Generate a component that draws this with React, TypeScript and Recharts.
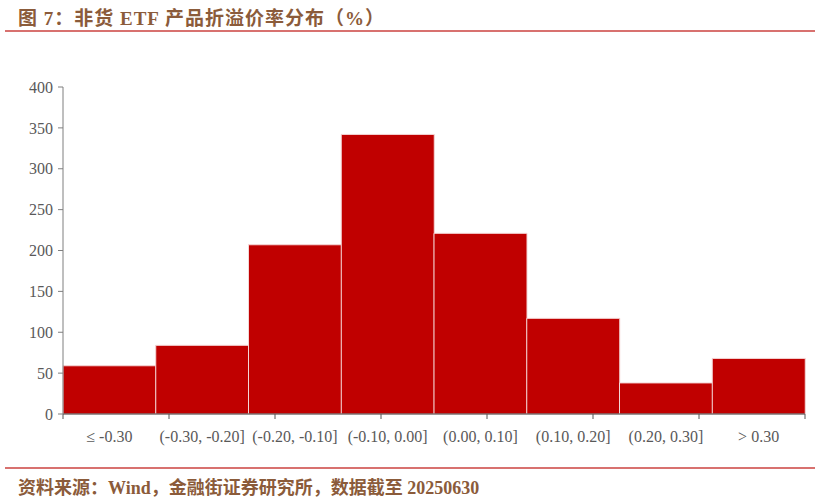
import React from "react";
import { BarChart, Bar, XAxis, YAxis } from "recharts";

const categories = [
  "≤ -0.30",
  "(-0.30, -0.20]",
  "(-0.20, -0.10]",
  "(-0.10, 0.00]",
  "(0.00, 0.10]",
  "(0.10, 0.20]",
  "(0.20, 0.30]",
  "> 0.30",
];
const counts = [59, 84, 207, 342, 221, 117, 38, 68];
const yTicks = [0, 50, 100, 150, 200, 250, 300, 350, 400];
const edgeTicks = [0, 1, 2, 3, 4, 5, 6, 7, 8];

const data = categories.map((c, i) => ({ name: c, value: counts[i] }));

const title = "图 7：非货 ETF 产品折溢价率分布（%）";
const source = "资料来源：Wind，金融街证券研究所，数据截至 20250630";

const serif = '"Liberation Serif", "Times New Roman", "Noto Sans CJK SC", serif';
const brown = "#8B5B3A";
const lineRed = "#D8716F";
const axisGray = "#7F7F7F";
const labelGray = "#595959";

export default function App() {
  return (
    <div
      style={{
        position: "absolute",
        left: 0,
        top: 0,
        width: 820,
        height: 500,
        background: "#fff",
        fontFamily: serif,
      }}
    >
      <div
        style={{
          position: "absolute",
          left: 18,
          top: 3,
          fontSize: 19,
          fontWeight: "bold",
          color: brown,
          letterSpacing: 1,
          whiteSpace: "nowrap",
        }}
      >
        {title}
      </div>
      <div
        style={{
          position: "absolute",
          left: 5,
          top: 30,
          width: 810,
          height: 2,
          background: lineRed,
        }}
      />
      <div style={{ position: "absolute", left: 0, top: 0 }}>
        <BarChart
          width={820}
          height={460}
          data={data}
          margin={{ top: 87, right: 15, bottom: 16, left: 0 }}
          barCategoryGap={0}
          barGap={0}
        >
          <XAxis
            xAxisId="a"
            type="number"
            domain={[0, 8]}
            ticks={edgeTicks}
            tickFormatter={() => ""}
            tick={{ fontSize: 1 }}
            tickSize={5}
            axisLine={{ stroke: "#404040" }}
            tickLine={{ stroke: "#555555" }}
            height={1}
            interval={0}
            allowDataOverflow
          />
          <XAxis
            xAxisId="b"
            dataKey="name"
            axisLine={false}
            tickLine={false}
            interval={0}
            tickMargin={10}
            height={29}
            tick={{ fill: labelGray, fontSize: 16, fontFamily: serif }}
          />
          <YAxis
            domain={[0, 400]}
            ticks={yTicks}
            width={63}
            tickSize={5}
            tickMargin={5}
            interval={0}
            axisLine={{ stroke: axisGray }}
            tickLine={{ stroke: axisGray }}
            tick={{ fill: labelGray, fontSize: 16, fontFamily: serif }}
          />
          <Bar
            xAxisId="b"
            dataKey="value"
            fill="#C00000"
            stroke="#F4D6D6"
            strokeWidth={1}
            isAnimationActive={false}
          />
        </BarChart>
      </div>
      <div
        style={{
          position: "absolute",
          left: 5,
          top: 467,
          width: 810,
          height: 2,
          background: lineRed,
        }}
      />
      <div
        style={{
          position: "absolute",
          left: 18,
          top: 473,
          fontSize: 18,
          fontWeight: "bold",
          color: brown,
          whiteSpace: "nowrap",
        }}
      >
        {source}
      </div>
    </div>
  );
}
